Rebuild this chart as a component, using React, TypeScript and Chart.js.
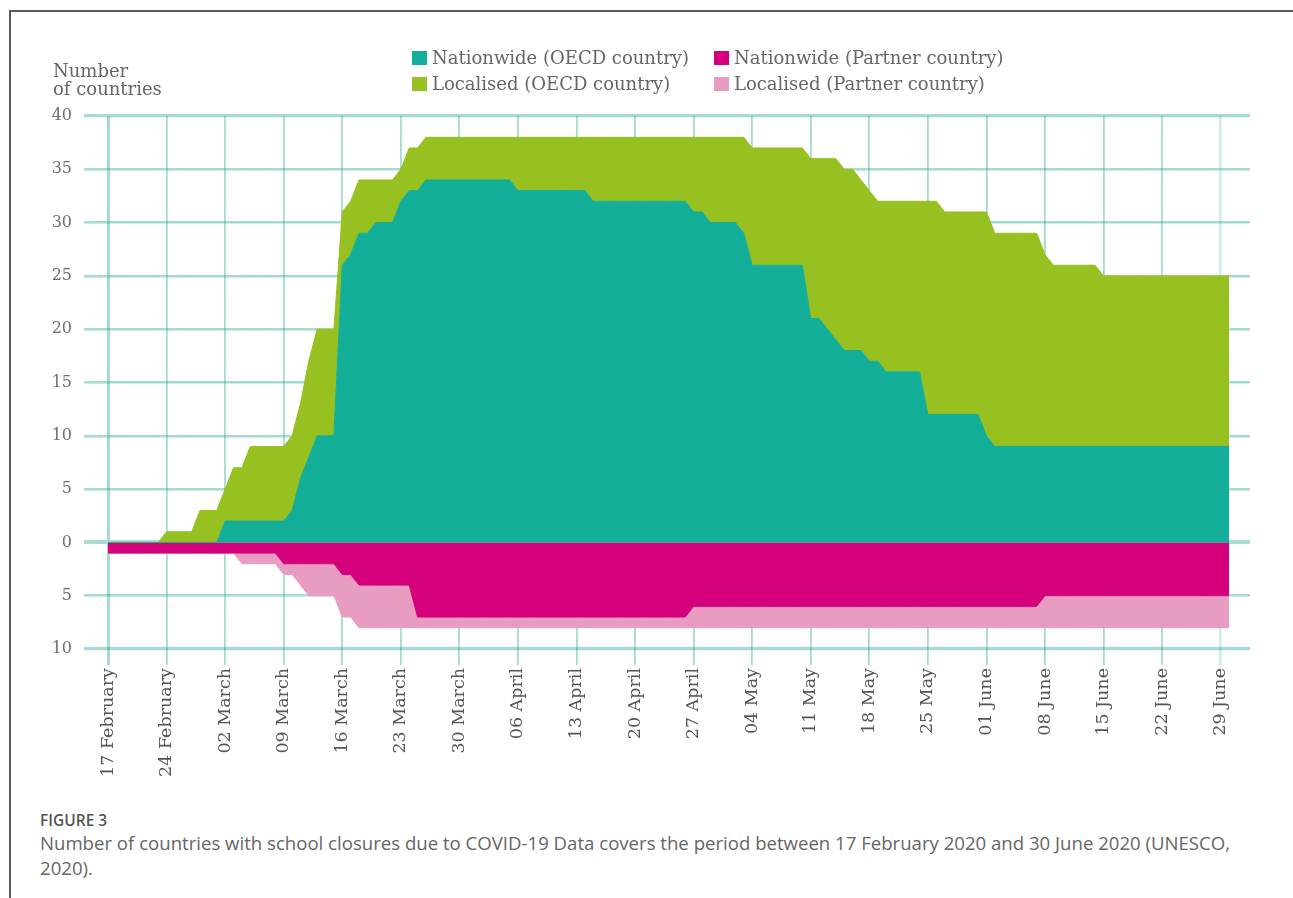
import React, { useEffect, useRef } from "react";
import { Chart, registerables } from "chart.js";

Chart.register(...registerables);

// Weekly tick labels (every 7 days from 17 February)
const weekLabels = [
  "17 February", "24 February", "02 March", "09 March", "16 March", "23 March",
  "30 March", "06 April", "13 April", "20 April", "27 April", "04 May", "11 May",
  "18 May", "25 May", "01 June", "08 June", "15 June", "22 June", "29 June",
];

// Daily values, 17 February (index 0) .. 30 June (index 134)
const nationwideOECD = [
  0, 0, 0, 0, 0, 0, 0, 0, 0, 0,
  0, 0, 0, 0, 2, 2, 2, 2, 2, 2,
  2, 2, 3, 6, 8, 10, 10, 10, 26, 27,
  29, 29, 30, 30, 30, 32, 33, 33, 34, 34,
  34, 34, 34, 34, 34, 34, 34, 34, 34, 33,
  33, 33, 33, 33, 33, 33, 33, 33, 32, 32,
  32, 32, 32, 32, 32, 32, 32, 32, 32, 32,
  31, 31, 30, 30, 30, 30, 29, 26, 26, 26,
  26, 26, 26, 26, 21, 21, 20, 19, 18, 18,
  18, 17, 17, 16, 16, 16, 16, 16, 12, 12,
  12, 12, 12, 12, 12, 10, 9, 9, 9, 9,
  9, 9, 9, 9, 9, 9, 9, 9, 9, 9,
  9, 9, 9, 9, 9, 9, 9, 9, 9, 9,
  9, 9, 9, 9, 9,
];

// Nationwide + localised (OECD), i.e. the top of the green band
const totalOECD = [
  0, 0, 0, 0, 0, 0, 0, 1, 1, 1,
  1, 3, 3, 3, 5, 7, 7, 9, 9, 9,
  9, 9, 10, 13, 17, 20, 20, 20, 31, 32,
  34, 34, 34, 34, 34, 35, 37, 37, 38, 38,
  38, 38, 38, 38, 38, 38, 38, 38, 38, 38,
  38, 38, 38, 38, 38, 38, 38, 38, 38, 38,
  38, 38, 38, 38, 38, 38, 38, 38, 38, 38,
  38, 38, 38, 38, 38, 38, 38, 37, 37, 37,
  37, 37, 37, 37, 36, 36, 36, 36, 35, 35,
  34, 33, 32, 32, 32, 32, 32, 32, 32, 32,
  31, 31, 31, 31, 31, 31, 29, 29, 29, 29,
  29, 29, 27, 26, 26, 26, 26, 26, 26, 25,
  25, 25, 25, 25, 25, 25, 25, 25, 25, 25,
  25, 25, 25, 25, 25,
];

// Partner countries (drawn below zero)
const nationwidePartner = [
  1, 1, 1, 1, 1, 1, 1, 1, 1, 1,
  1, 1, 1, 1, 1, 1, 1, 1, 1, 1,
  1, 2, 2, 2, 2, 2, 2, 2, 3, 3,
  4, 4, 4, 4, 4, 4, 4, 7, 7, 7,
  7, 7, 7, 7, 7, 7, 7, 7, 7, 7,
  7, 7, 7, 7, 7, 7, 7, 7, 7, 7,
  7, 7, 7, 7, 7, 7, 7, 7, 7, 7,
  6, 6, 6, 6, 6, 6, 6, 6, 6, 6,
  6, 6, 6, 6, 6, 6, 6, 6, 6, 6,
  6, 6, 6, 6, 6, 6, 6, 6, 6, 6,
  6, 6, 6, 6, 6, 6, 6, 6, 6, 6,
  6, 6, 5, 5, 5, 5, 5, 5, 5, 5,
  5, 5, 5, 5, 5, 5, 5, 5, 5, 5,
  5, 5, 5, 5, 5,
];

const totalPartner = [
  1, 1, 1, 1, 1, 1, 1, 1, 1, 1,
  1, 1, 1, 1, 1, 1, 2, 2, 2, 2,
  2, 3, 3, 4, 5, 5, 5, 5, 7, 7,
  8, 8, 8, 8, 8, 8, 8, 8, 8, 8,
  8, 8, 8, 8, 8, 8, 8, 8, 8, 8,
  8, 8, 8, 8, 8, 8, 8, 8, 8, 8,
  8, 8, 8, 8, 8, 8, 8, 8, 8, 8,
  8, 8, 8, 8, 8, 8, 8, 8, 8, 8,
  8, 8, 8, 8, 8, 8, 8, 8, 8, 8,
  8, 8, 8, 8, 8, 8, 8, 8, 8, 8,
  8, 8, 8, 8, 8, 8, 8, 8, 8, 8,
  8, 8, 8, 8, 8, 8, 8, 8, 8, 8,
  8, 8, 8, 8, 8, 8, 8, 8, 8, 8,
  8, 8, 8, 8, 8,
];

const TEAL = "#13ae98";
const GREEN = "#96c121";
const MAGENTA = "#d5007b";
const PINK = "#e89cc1";

const legendItems = [
  { label: "Nationwide (OECD country)", color: TEAL, left: 412, top: 51 },
  { label: "Nationwide (Partner country)", color: MAGENTA, left: 714, top: 51 },
  { label: "Localised (OECD country)", color: GREEN, left: 412, top: 77 },
  { label: "Localised (Partner country)", color: PINK, left: 714, top: 77 },
];

const SERIF = "'DejaVu Serif', serif";
const SANS = "'Open Sans', sans-serif";

export default function App() {
  const canvasRef = useRef<HTMLCanvasElement>(null);

  useEffect(() => {
    const pts = (arr: number[], sign = 1) => arr.map((v, i) => ({ x: i, y: sign * v }));
    const common = { pointRadius: 0, pointHoverRadius: 0, tension: 0, borderWidth: 1 };
    const chart = new Chart(canvasRef.current as HTMLCanvasElement, {
      type: "line",
      data: {
        datasets: [
          { ...common, label: "Nationwide (OECD country)", data: pts(nationwideOECD), backgroundColor: TEAL, borderColor: TEAL, fill: "origin" },
          { ...common, label: "Localised (OECD country)", data: pts(totalOECD), backgroundColor: GREEN, borderColor: GREEN, fill: "-1" },
          { ...common, label: "Nationwide (Partner country)", data: pts(nationwidePartner, -1), backgroundColor: MAGENTA, borderColor: MAGENTA, fill: "origin" },
          { ...common, label: "Localised (Partner country)", data: pts(totalPartner, -1), backgroundColor: PINK, borderColor: PINK, fill: "-1" },
        ],
      },
      options: {
        responsive: false,
        animation: false,
        events: [],
        layout: { padding: { top: 116, left: 0, right: 43, bottom: 0 } },
        plugins: { legend: { display: false }, tooltip: { enabled: false }, title: { display: false } },
        scales: {
          x: {
            type: "linear",
            min: 0,
            max: 136.5,
            z: 1,
            border: { display: false },
            grid: {
              color: (ctx: any) => {
                const v = ctx.tick ? ctx.tick.value : 0;
                if (v === 133) return "rgba(200,236,229,0.95)";
                return "rgba(40,170,150,0.42)";
              },
              lineWidth: (ctx: any) => {
                const v = ctx.tick ? ctx.tick.value : 0;
                if (v === 0) return 3;
                if (v === 133) return 2.5;
                return 1.8;
              },
              tickLength: 16,
            },
            ticks: {
              stepSize: 7,
              autoSkip: false,
              includeBounds: false,
              maxRotation: 90,
              minRotation: 90,
              padding: 3,
              color: "#555",
              font: { family: SERIF, size: 17.5 },
              callback: (v: any) => {
                const idx = Number(v) / 7;
                return Number.isInteger(idx) && weekLabels[idx] ? weekLabels[idx] : "";
              },
            },
            afterFit: (scale: any) => {
              scale.height = 151;
            },
          },
          y: {
            min: -10,
            max: 40,
            z: 1,
            border: { display: false },
            grid: {
              color: (ctx: any) => {
                const v = ctx.tick ? ctx.tick.value : 1;
                if (v === 0) return "#a9ddd1";
                return "rgba(40,170,150,0.42)";
              },
              lineWidth: (ctx: any) => {
                const v = ctx.tick ? ctx.tick.value : 1;
                if (v === 0) return 4;
                if (v === 40 || v === -10) return 3.2;
                return 2.6;
              },
              tickLength: 24,
            },
            ticks: {
              stepSize: 5,
              padding: 12,
              color: "#6f6f6f",
              font: { family: SERIF, size: 16 },
              callback: (v: any) => String(Math.abs(Number(v))),
            },
            afterFit: (scale: any) => {
              scale.width = 108;
            },
          },
        },
      },
    } as any);
    return () => chart.destroy();
  }, []);

  return (
    <div style={{ position: "absolute", left: 0, top: 0, width: 1293, height: 898, background: "#fff", overflow: "hidden" }}>
      <div style={{ position: "absolute", left: 9, top: 10, right: 0, bottom: 0, borderTop: "2px solid #5a5a5a", borderLeft: "2px solid #5a5a5a" }} />
      <canvas ref={canvasRef} width={1293} height={800} style={{ position: "absolute", left: 0, top: 0, width: 1293, height: 800 }} />
      <div style={{ position: "absolute", left: 53, top: 62, fontFamily: SERIF, fontSize: 18, lineHeight: "18px", color: "#666" }}>
        Number
        <br />
        of countries
      </div>
      {legendItems.map((it) => (
        <div key={it.label} style={{ position: "absolute", left: it.left, top: it.top, display: "flex", alignItems: "center", height: 14 }}>
          <span style={{ display: "inline-block", width: 15, height: 14, background: it.color, marginRight: 5 }} />
          <span style={{ fontFamily: SERIF, fontSize: 18, lineHeight: "18px", color: "#666", whiteSpace: "nowrap" }}>{it.label}</span>
        </div>
      ))}
      <div style={{ position: "absolute", left: 40, top: 810, fontFamily: SANS, fontSize: 15.5, lineHeight: "20px", fontWeight: 600, color: "#555" }}>
        FIGURE 3
      </div>
      <div style={{ position: "absolute", left: 40, top: 830, fontFamily: SANS, fontSize: 18.6, lineHeight: "25px", color: "#666", whiteSpace: "nowrap" }}>
        Number of countries with school closures due to COVID-19 Data covers the period between 17 February 2020 and 30 June 2020 (UNESCO,
        <br />
        2020).
      </div>
    </div>
  );
}
